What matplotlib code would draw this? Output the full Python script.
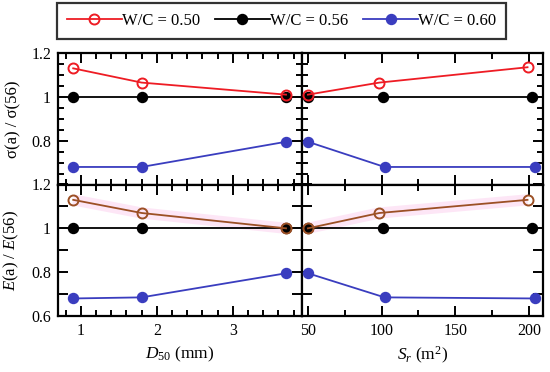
import matplotlib
matplotlib.use('Agg')
import matplotlib.pyplot as plt
from matplotlib.ticker import MultipleLocator, FuncFormatter
from matplotlib.lines import Line2D

plt.rcParams['font.family'] = ['Liberation Serif', 'DejaVu Serif']
plt.rcParams['mathtext.fontset'] = 'custom'
plt.rcParams['mathtext.rm'] = 'Liberation Serif'
plt.rcParams['mathtext.it'] = 'Liberation Serif:italic'
plt.rcParams['font.size'] = 11.5

# data
d50 = [0.9, 1.8, 3.7]
sr_050 = [50, 98.5, 199]
sr_056 = [50, 101, 202]
sr_060 = [50, 102, 204]

sig_d_050 = [1.13, 1.065, 1.01]
sig_d_056 = [1.0, 1.0, 1.0]
sig_d_060 = [0.68, 0.68, 0.795]
sig_s_050 = [1.01, 1.065, 1.135]
sig_s_056 = [1.0, 1.0, 1.0]
sig_s_060 = [0.795, 0.68, 0.68]

e_d_050 = [1.13, 1.07, 1.0]
e_d_056 = [1.0, 1.0, 1.0]
e_d_060 = [0.68, 0.685, 0.795]
e_s_050 = [1.0, 1.07, 1.13]
e_s_056 = [1.0, 1.0, 1.0]
e_s_060 = [0.795, 0.685, 0.68]

labels = ['W/C = 0.50', 'W/C = 0.56', 'W/C = 0.60']
red = '#ee1c24'
brown = '#9c5025'
blue = '#3a3dbf'

fig = plt.figure(figsize=(5.5, 3.72), dpi=100)
W, H = 550.0, 372.0
x0, xm, x1 = 58, 302, 543
y0, ym, y1 = 53, 184.5, 316
ax_tl = fig.add_axes([x0/W, 1-ym/H, (xm-x0)/W, (ym-y0)/H])
ax_tr = fig.add_axes([xm/W, 1-ym/H, (x1-xm)/W, (ym-y0)/H])
ax_bl = fig.add_axes([x0/W, 1-y1/H, (xm-x0)/W, (y1-ym)/H])
ax_br = fig.add_axes([xm/W, 1-y1/H, (x1-xm)/W, (y1-ym)/H])

ms = 7.2
lw = 1.3

def draw(ax, xs, ys, top):
    ax.plot(xs[1], ys[1], color='black', lw=lw, marker='o', ms=ms, zorder=3)
    ax.plot(xs[2], ys[2], color=blue, lw=lw, marker='o', ms=ms, zorder=3)
    if top:
        ax.plot(xs[0], ys[0], color=red, lw=lw, marker='o', ms=ms,
                mfc='none', mew=1.4, zorder=4)
    else:
        ax.plot(xs[0], ys[0], color='#fde6f6', lw=8, zorder=1,
                solid_capstyle='butt')
        ax.plot(xs[0], ys[0], color=brown, lw=lw, marker='o', ms=ms,
                mfc='none', mew=1.4, zorder=4)

draw(ax_tl, [d50, d50, d50], [sig_d_050, sig_d_056, sig_d_060], True)
draw(ax_tr, [sr_050, sr_056, sr_060], [sig_s_050, sig_s_056, sig_s_060], True)
draw(ax_bl, [d50, d50, d50], [e_d_050, e_d_056, e_d_060], False)
draw(ax_br, [sr_050, sr_056, sr_060], [e_s_050, e_s_056, e_s_060], False)

fmt = FuncFormatter(lambda v, p: '%g' % round(v, 2))
for ax in [ax_tl, ax_tr, ax_bl, ax_br]:
    ax.set_ylim(0.6, 1.2)
    ax.yaxis.set_major_locator(MultipleLocator(0.2))
    ax.yaxis.set_major_formatter(fmt)
    for s in ax.spines.values():
        s.set_linewidth(1.6)
    ax.tick_params(which='both', direction='in', top=True, right=True,
                   width=1.4, labelsize=11.5)
    ax.tick_params(which='major', length=7.5, pad=5)
    ax.tick_params(which='minor', length=4.5)

for ax in [ax_tl, ax_tr]:
    ax.yaxis.set_minor_locator(MultipleLocator(0.05))
    ax.tick_params(labelbottom=False)
for ax in [ax_bl, ax_br]:
    ax.yaxis.set_minor_locator(MultipleLocator(0.1))
    ax.tick_params(which='minor', axis='y', length=7.5)

for ax in [ax_tl, ax_bl]:
    ax.set_xlim(0.7, 3.91)
    ax.xaxis.set_major_locator(MultipleLocator(1))
    ax.xaxis.set_minor_locator(MultipleLocator(0.2))
for ax in [ax_tr, ax_br]:
    ax.set_xlim(46, 209.5)
    ax.xaxis.set_major_locator(MultipleLocator(50))
    ax.xaxis.set_minor_locator(MultipleLocator(25))
    ax.tick_params(labelleft=False)

ax_tl.set_yticks([0.8, 1.0, 1.2])
ax_tl.set_ylim(0.6, 1.2)

ax_tl.set_ylabel(r'σ(a) / σ(56)', fontsize=12, labelpad=7)
ax_bl.set_ylabel(r'$E$(a) / $E$(56)', fontsize=12, labelpad=7)
ax_bl.set_xlabel(r'$D_{50}$ (mm)', fontsize=12.5, labelpad=4)
ax_br.set_xlabel(r'$S_r$ (m$^2$)', fontsize=12.5, labelpad=4)

handles = [
    Line2D([], [], color=red, lw=lw, marker='o', ms=ms, mfc='none', mew=1.4),
    Line2D([], [], color='black', lw=lw, marker='o', ms=ms),
    Line2D([], [], color=blue, lw=lw, marker='o', ms=ms),
]
leg = fig.legend(handles, labels, loc='center', ncol=3,
                 bbox_to_anchor=(281.5/W, 1-21/H), fontsize=12,
                 handlelength=3.3, handletextpad=0.0, columnspacing=0.9,
                 frameon=True, fancybox=False, borderpad=0.6)
leg.get_frame().set_edgecolor('black')
leg.get_frame().set_linewidth(1.6)

fig.savefig('out.png', dpi=100)
